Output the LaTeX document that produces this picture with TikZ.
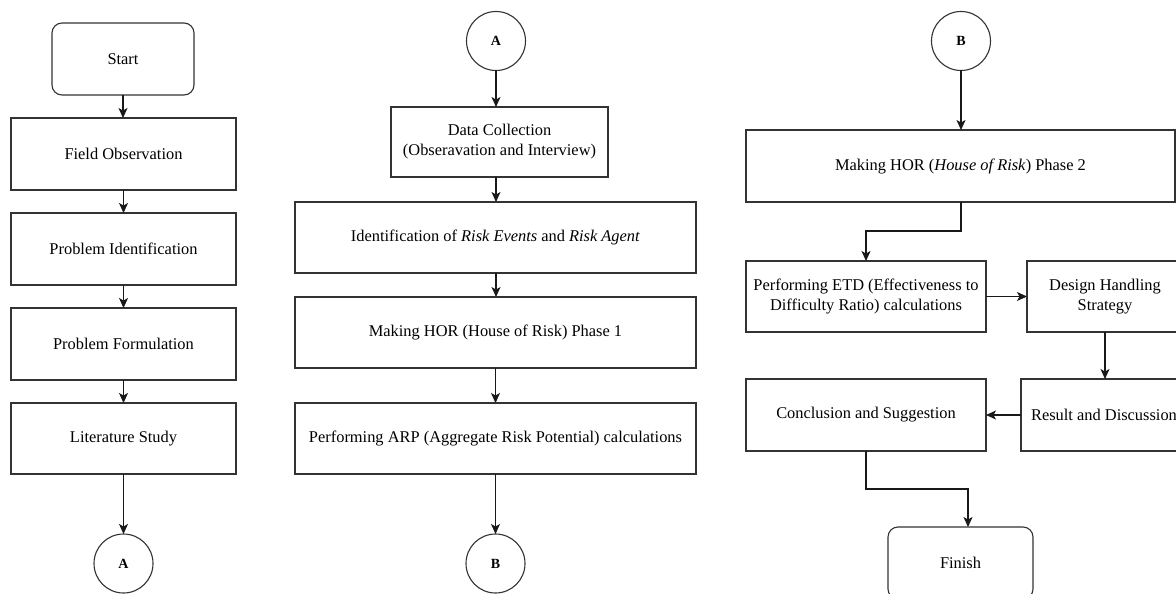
\documentclass[tikz,border=0pt]{standalone}
\usepackage{fontspec}
\setmainfont{Liberation Serif}
\usetikzlibrary{arrows.meta}
\begin{document}
\begin{tikzpicture}[x=1pt,y=-1pt,
  every node/.style={font=\fontsize{16.4}{20}\selectfont, align=center, inner sep=0pt, outer sep=0pt},
  box/.style={draw=black!80, line width=1.1pt, rectangle},
  term/.style={box, rounded corners=10pt},
  conn/.style={draw=black!80, line width=1.1pt, circle, minimum size=59pt, font=\fontsize{14}{16}\selectfont\bfseries},
  arr/.style={draw=black!90, line width=1.1pt, -{Stealth[length=10pt,width=9pt,inset=2.5pt]}}
]
\useasboundingbox (0,0) rectangle (1176,594);
\clip (0,0) rectangle (1176,594);

% left column
\node[term, minimum width=142pt, minimum height=72pt] (start) at (123,59) {Start};
\node[box, minimum width=225pt, minimum height=72pt] (fo) at (123.5,154) {Field Observation};
\node[box, minimum width=225pt, minimum height=72pt] (pi) at (123.5,249) {Problem Identification};
\node[box, minimum width=225pt, minimum height=72pt] (pf) at (123.5,344) {Problem Formulation};
\node[box, minimum width=225pt, minimum height=71pt] (ls) at (123.5,438.5) {Literature Study};
\node[conn] (a1) at (123.5,563.5) {A};

\draw[arr] (start) -- (start |- fo.north);
\draw[arr] (fo) -- (fo |- pi.north);
\draw[arr] (pi) -- (pi |- pf.north);
\draw[arr] (pf) -- (pf |- ls.north);
\draw[arr] (ls) -- (a1);

% middle column
\node[conn] (a2) at (496,41) {A};
\node[box, minimum width=217pt, minimum height=70pt] (dc) at (499.5,142) {Data Collection\\(Obseravation and Interview)};
\node[box, minimum width=401pt, minimum height=71pt] (id) at (495.5,237.5) {Identification of \textit{Risk Events} and \textit{Risk Agent}};
\node[box, minimum width=401pt, minimum height=71pt] (hor1) at (495.5,332.5) {Making HOR (House of Risk) Phase 1};
\node[box, minimum width=401pt, minimum height=71pt] (arp) at (495.5,438.5) {Performing ARP (Aggregate Risk Potential) calculations};
\node[conn] (b1) at (495.5,563.5) {B};

\draw[arr] (a2) -- (a2 |- dc.north);
\draw[arr] (a2 |- dc.south) -- (a2 |- id.north);
\draw[arr] (a2 |- id.south) -- (a2 |- hor1.north);
\draw[arr] (hor1) -- (hor1 |- arp.north);
\draw[arr] (arp) -- (b1);

% right column
\node[conn] (b2) at (961,41) {B};
\node[box, minimum width=429pt, minimum height=72pt] (hor2) at (960.5,166) {Making HOR (\textit{House of Risk}) Phase 2};
\node[box, minimum width=240pt, minimum height=71pt] (etd) at (866,296.5) {Performing ETD (Effectiveness to\\Difficulty Ratio) calculations};
\node[box, minimum width=156pt, minimum height=71pt] (dhs) at (1105,296.5) {Design Handling\\Strategy};
\node[box, minimum width=166pt, minimum height=72pt] (res) at (1104,415) {Result and Discussion};
\node[box, minimum width=240pt, minimum height=72pt] (con) at (866,415) {Conclusion and Suggestion};
\node[term, minimum width=145pt, minimum height=72pt] (fin) at (960.5,563) {Finish};
\coordinate (finin) at (968,527);

\draw[arr] (b2) -- (b2 |- hor2.north);
\draw[arr] (b2 |- hor2.south) -- ++(0,29) -| (etd.north);
\draw[arr] (etd.east) -- (dhs.west);
\draw[arr] (dhs.south) -- (dhs.south |- res.north);
\draw[arr] (res.west) -- (con.east);
\draw[arr] (con.south) -- ++(0,38) -| (finin);
\end{tikzpicture}
\end{document}
